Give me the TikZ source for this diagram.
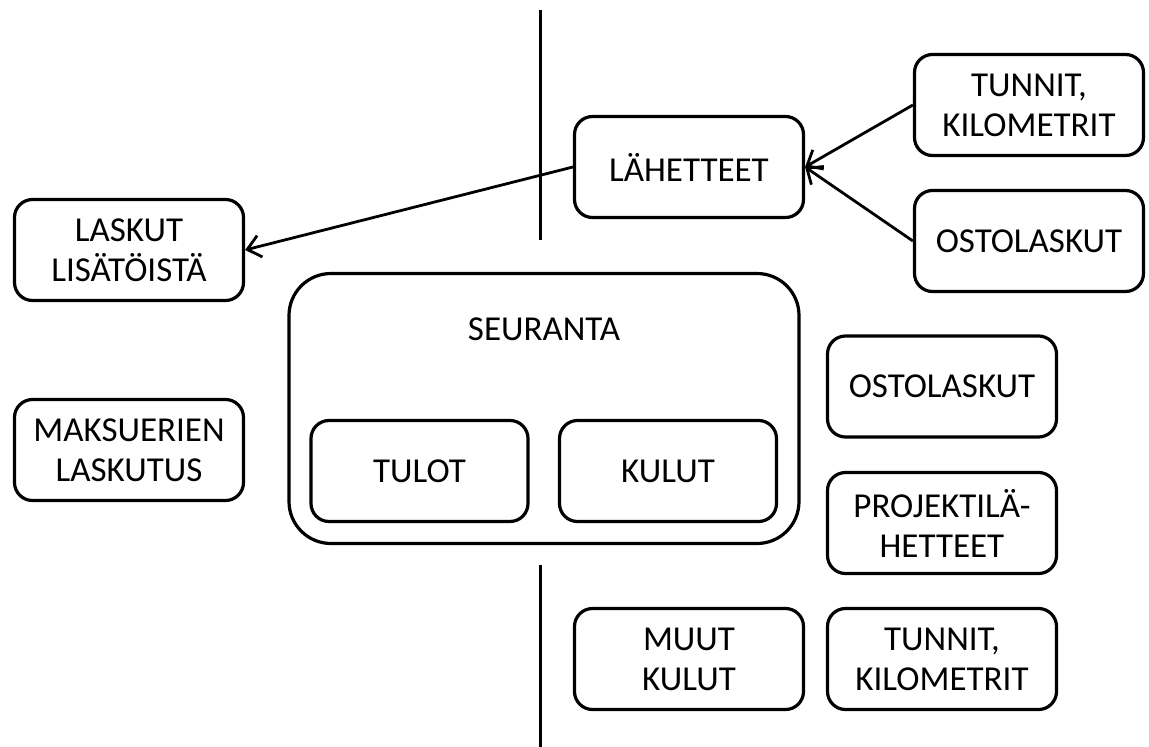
\documentclass[tikz,border=0pt]{standalone}
\usepackage{fontspec}
\setmainfont{Carlito}
\usetikzlibrary{arrows.meta}

\begin{document}
\begin{tikzpicture}[x=1pt, y=-1pt, >={Straight Barb[length=13pt,width=22pt]},
    lbl/.style={font=\fontsize{35}{40}\selectfont, align=center, inner sep=0pt},
    box/.style={lbl, draw, line width=3.2pt, rounded corners=18pt,
      minimum width=229pt, minimum height=101pt},
    link/.style={->, line width=2.8pt}]
    \useasboundingbox (0,0) rectangle (1149,747);
    % dividers
    \draw[line width=3pt] (540,10) -- (540,240);
    \draw[line width=3pt] (540,565) -- (540,747);
    % top row
    \node[box] (tunnit) at (1029,105) {TUNNIT,\\KILOMETRIT};
    \node[box] (lahetteet) at (689,167) {LÄHETTEET};
    \node[box] (ostolaskut) at (1029,241) {OSTOLASKUT};
    \node[box] (laskut) at (129,250) {LASKUT\\LISÄTÖISTÄ};
    % seuranta
    \node[box, minimum width=510pt, minimum height=270pt, rounded corners=42pt] (seuranta) at (544,408.5) {};
    \node[lbl] (seurantaotsikko) at (544,329) {SEURANTA};
    \node[box, minimum width=217pt] (tulot) at (419.5,471) {TULOT};
    \node[box, minimum width=217pt] (kulut) at (668,471) {KULUT};
    \node[box] (maksuerat) at (129,450) {MAKSUERIEN\\LASKUTUS};
    % right column
    \node[box] (ostolaskut2) at (942,386.5) {OSTOLASKUT};
    \node[box] (projekti) at (942,523) {PROJEKTILÄ-\\HETTEET};
    \node[box] (muut) at (689,659) {MUUT\\KULUT};
    \node[box] (tunnit2) at (942,659) {TUNNIT,\\KILOMETRIT};
    % arrows
    \draw[link] (tunnit.west) -- (lahetteet.east);
    \draw[link] (ostolaskut.west) -- (lahetteet.east);
    \draw[link] (lahetteet.west) -- (laskut.east);
\end{tikzpicture}
\end{document}
